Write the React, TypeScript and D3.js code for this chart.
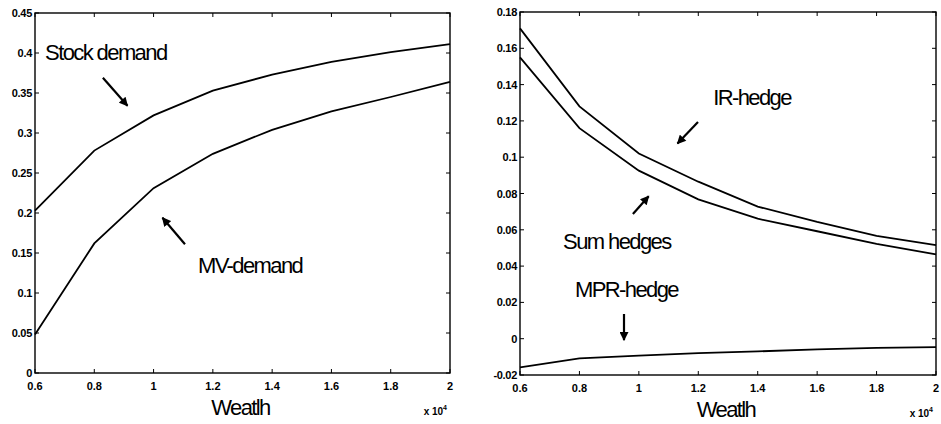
import React from "react";
import * as d3 from "d3";

const wealth = [0.6, 0.8, 1.0, 1.2, 1.4, 1.6, 1.8, 2.0];
const stockDemand = [0.203, 0.278, 0.322, 0.353, 0.373, 0.389, 0.401, 0.411];
const mvDemand = [0.048, 0.162, 0.231, 0.274, 0.304, 0.327, 0.345, 0.364];
const irHedge = [0.171, 0.128, 0.102, 0.0865, 0.0728, 0.0643, 0.0566, 0.0515];
const sumHedges = [0.155, 0.116, 0.0926, 0.0768, 0.0661, 0.0592, 0.0523, 0.0465];
const mprHedge = [-0.0158, -0.0108, -0.0093, -0.0079, -0.007, -0.0059, -0.0051, -0.0046];

const xTicks = [0.6, 0.8, 1, 1.2, 1.4, 1.6, 1.8, 2];
const leftYTicks = [0, 0.05, 0.1, 0.15, 0.2, 0.25, 0.3, 0.35, 0.4, 0.45];
const rightYTicks = [-0.02, 0, 0.02, 0.04, 0.06, 0.08, 0.1, 0.12, 0.14, 0.16, 0.18];

type Ann = { text: string; tx: number; ty: number; a: [number, number, number, number] };
const leftAnns: Ann[] = [
  { text: "Stock demand", tx: 0.634, ty: 0.391, a: [0.829, 0.369, 0.912, 0.334] },
  { text: "MV-demand", tx: 1.15, ty: 0.125, a: [1.106, 0.161, 1.03, 0.194] },
];
const rightAnns: Ann[] = [
  { text: "IR-hedge", tx: 1.25, ty: 0.1288, a: [1.199, 0.1194, 1.13, 0.1075] },
  { text: "Sum hedges", tx: 0.745, ty: 0.0494, a: [0.98, 0.0687, 1.033, 0.0785] },
  { text: "MPR-hedge", tx: 0.785, ty: 0.023, a: [0.95, 0.0136, 0.95, -0.0008] },
];

const tickFont = "'Liberation Sans', Arial, sans-serif";

function Panel(props: {
  x0: number; x1: number; y0: number; y1: number;
  yDomain: [number, number]; yTicks: number[];
  series: number[][]; anns: Ann[]; id: string;
}) {
  const { x0, x1, y0, y1, yDomain, yTicks, series, anns, id } = props;
  const x = d3.scaleLinear().domain([0.6, 2]).range([x0, x1]);
  const y = d3.scaleLinear().domain(yDomain).range([y1, y0]);
  const line = d3.line<number>().x((_, i) => x(wealth[i])).y((d) => y(d));
  const tl = 4;
  const yFmt = (v: number) => String(Math.round(v * 1000) / 1000);
  return (
    <g>
      <defs>
        <marker id={"ah" + id} viewBox="0 0 10 10" refX="9" refY="5" markerWidth="10" markerHeight="9" orient="auto-start-reverse" markerUnits="userSpaceOnUse">
          <path d="M0,0 L10,5 L0,10 z" fill="#000" />
        </marker>
      </defs>
      <rect x={x0} y={y0} width={x1 - x0} height={y1 - y0} fill="#fff" stroke="#000" strokeWidth={1.4} />
      {xTicks.map((t) => (
        <g key={"xt" + t}>
          <line x1={x(t)} x2={x(t)} y1={y1} y2={y1 - tl} stroke="#000" strokeWidth={1} />
          <line x1={x(t)} x2={x(t)} y1={y0} y2={y0 + tl} stroke="#000" strokeWidth={1} />
          <text x={x(t)} y={y1 + 17} textAnchor="middle" fontFamily={tickFont} fontWeight="bold" fontSize={11}>
            {String(t)}
          </text>
        </g>
      ))}
      {yTicks.map((t) => (
        <g key={"yt" + t}>
          <line x1={x0} x2={x0 + tl} y1={y(t)} y2={y(t)} stroke="#000" strokeWidth={1} />
          <line x1={x1} x2={x1 - tl} y1={y(t)} y2={y(t)} stroke="#000" strokeWidth={1} />
          <text x={x0 - 3} y={y(t) + 4} textAnchor="end" fontFamily={tickFont} fontWeight="bold" fontSize={11} letterSpacing={-0.3}>
            {yFmt(t)}
          </text>
        </g>
      ))}
      {series.map((s, i) => (
        <path key={"s" + i} d={line(s) || ""} fill="none" stroke="#000" strokeWidth={1.8} />
      ))}
      {anns.map((a, i) => (
        <g key={"a" + i}>
          <text x={x(a.tx)} y={y(a.ty)} fontFamily={tickFont} fontSize={22} letterSpacing={-1.6}>
            {a.text}
          </text>
          <line x1={x(a.a[0])} y1={y(a.a[1])} x2={x(a.a[2])} y2={y(a.a[3])} stroke="#000" strokeWidth={2.2} markerEnd={`url(#ah${id})`} />
        </g>
      ))}
      <text x={(x0 + x1) / 2 - 2} y={y1 + 42} textAnchor="middle" fontFamily={tickFont} fontSize={22} letterSpacing={-1.6}>
        Weatlh
      </text>
      <text x={x1 - 3} y={y1 + 42} textAnchor="end" fontFamily={tickFont} fontSize={10} fontWeight="bold">
        x 10
        <tspan dy={-5} fontSize={7}>4</tspan>
      </text>
    </g>
  );
}

export default function App() {
  return (
    <svg width={941} height={424} style={{ position: "absolute", left: 0, top: 0, background: "#fff" }}>
      <rect width={941} height={424} fill="#fff" />
      <Panel id="L" x0={35} x1={450} y0={13} y1={373} yDomain={[0, 0.45]} yTicks={leftYTicks}
        series={[stockDemand, mvDemand]} anns={leftAnns} />
      <Panel id="R" x0={520} x1={936} y0={12} y1={375} yDomain={[-0.02, 0.18]} yTicks={rightYTicks}
        series={[irHedge, sumHedges, mprHedge]} anns={rightAnns} />
    </svg>
  );
}
